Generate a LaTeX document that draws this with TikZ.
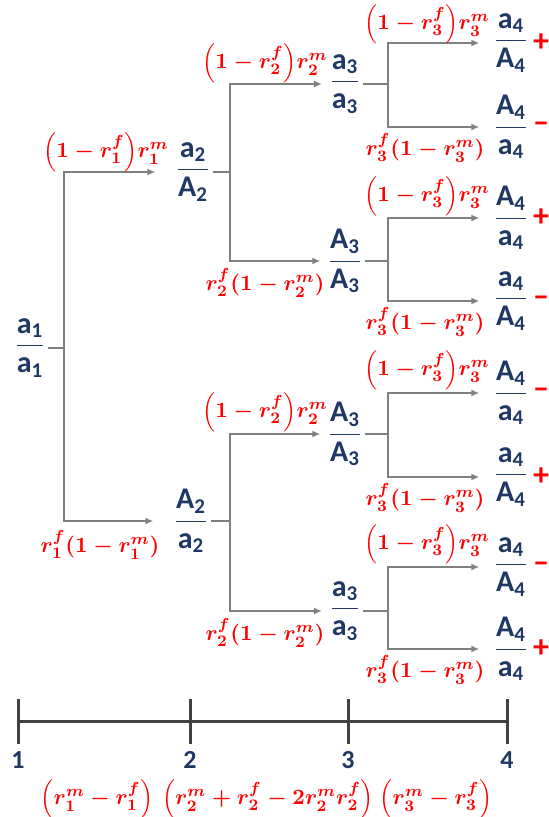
\documentclass[tikz,border=0pt]{standalone}
\usepackage{amsmath}
\usepackage{fontspec}
\newfontfamily\calfont{Carlito}
\usetikzlibrary{arrows.meta,positioning}
\definecolor{genblue}{RGB}{31,56,100}
\definecolor{probred}{RGB}{255,0,0}
\definecolor{treegray}{RGB}{128,128,128}
\definecolor{axisgray}{RGB}{64,64,64}
\newcommand{\allele}[2]{\text{\calfont\bfseries #1}_{\text{\calfont\bfseries #2}}}
\newcommand{\gfrac}[3]{$\dfrac{\allele{#1}{#3}}{\allele{#2}{#3}}$}
\newcommand{\stay}[1]{$\left(1-r_{#1}^{f}\right)\!r_{#1}^{m}$}
\newcommand{\swap}[1]{$r_{#1}^{f}(1-r_{#1}^{m})$}
\tikzset{
  genfrac/.style={inner sep=1pt,text=genblue,font=\fontsize{15}{17}\selectfont},
  prob/.style={inner sep=0pt,text=probred,font=\fontsize{11}{13}\selectfont\boldmath},
  signmark/.style={inner sep=0pt,text=probred,font=\calfont\bfseries\fontsize{16}{18}\selectfont},
  stem/.style={draw=treegray,line width=1pt},
  branch/.style={stem,-{Latex[length=4pt,width=3.5pt]}},
  axisline/.style={draw=axisgray,line width=1.5pt},
  stagelabel/.style={inner sep=0pt,text=genblue,font=\calfont\bfseries\fontsize{13}{15}\selectfont}
}
\begin{document}
\begin{tikzpicture}[x=0.5pt,y=-0.5pt]
  \useasboundingbox (0,0) rectangle (548,817);
  % generation 1
  \node[genfrac] (n1) at (30,348) {\gfrac{a}{a}{1}};
  % generation 2
  \node[genfrac] (n2a) at (193,172) {\gfrac{a}{A}{2}};
  \node[genfrac] (n2b) at (191,521) {\gfrac{A}{a}{2}};
  % generation 3
  \node[genfrac] (n3a) at (345,84) {\gfrac{a}{a}{3}};
  \node[genfrac] (n3b) at (345,261) {\gfrac{A}{A}{3}};
  \node[genfrac] (n3c) at (345,434) {\gfrac{A}{A}{3}};
  \node[genfrac] (n3d) at (345,611) {\gfrac{a}{a}{3}};
  % generation 4
  \node[genfrac] (n4a) at (511,43) {\gfrac{a}{A}{4}};
  \node[genfrac] (n4b) at (511,127) {\gfrac{A}{a}{4}};
  \node[genfrac] (n4c) at (511,218) {\gfrac{A}{a}{4}};
  \node[genfrac] (n4d) at (511,301) {\gfrac{a}{A}{4}};
  \node[genfrac] (n4e) at (511,393) {\gfrac{A}{a}{4}};
  \node[genfrac] (n4f) at (511,477) {\gfrac{a}{A}{4}};
  \node[genfrac] (n4g) at (511,567) {\gfrac{a}{A}{4}};
  \node[genfrac] (n4h) at (511,649) {\gfrac{A}{a}{4}};
  \node[signmark,right=1pt of n4a] (s4a) {+};
  \node[signmark,right=1pt of n4b] (s4b) {–};
  \node[signmark,right=1pt of n4c] (s4c) {+};
  \node[signmark,right=1pt of n4d] (s4d) {–};
  \node[signmark,right=1pt of n4e] (s4e) {–};
  \node[signmark,right=1pt of n4f] (s4f) {+};
  \node[signmark,right=1pt of n4g] (s4g) {–};
  \node[signmark,right=1pt of n4h] (s4h) {+};
  % junctions
  \coordinate (j1) at (64,348);
  \coordinate (j2a) at (230,172);
  \coordinate (j2b) at (230,521);
  \coordinate (j3a) at (388,84);
  \coordinate (j3b) at (388,261);
  \coordinate (j3c) at (388,434);
  \coordinate (j3d) at (388,611);
  % branches
  \draw[stem] (n1.east) -- (j1);
  \draw[branch,shorten >=9pt] (j1) |- (n2a.west);
  \draw[branch,shorten >=9pt] (j1) |- (n2b.west);
  \draw[stem] (n2a.east) -- (j2a);
  \draw[stem] (n2b.east) -- (j2b);
  \draw[branch,shorten >=2.5pt] (j2a) |- (n3a.west);
  \draw[branch,shorten >=2.5pt] (j2a) |- (n3b.west);
  \draw[branch,shorten >=2.5pt] (j2b) |- (n3c.west);
  \draw[branch,shorten >=2.5pt] (j2b) |- (n3d.west);
  \draw[stem] (n3a.east) -- (j3a);
  \draw[stem] (n3b.east) -- (j3b);
  \draw[stem] (n3c.east) -- (j3c);
  \draw[stem] (n3d.east) -- (j3d);
  \draw[branch,shorten >=6pt] (j3a) |- (n4a.west);
  \draw[branch,shorten >=6pt] (j3a) |- (n4b.west);
  \draw[branch,shorten >=6pt] (j3b) |- (n4c.west);
  \draw[branch,shorten >=6pt] (j3b) |- (n4d.west);
  \draw[branch,shorten >=6pt] (j3c) |- (n4e.west);
  \draw[branch,shorten >=6pt] (j3c) |- (n4f.west);
  \draw[branch,shorten >=6pt] (j3d) |- (n4g.west);
  \draw[branch,shorten >=6pt] (j3d) |- (n4h.west);
  % transition probabilities
  \node[prob] (p1a) at (106,152) {\stay{1}};
  \node[prob] (p1b) at (100,545) {\swap{1}};
  \node[prob] (p2a) at (265,63) {\stay{2}};
  \node[prob] (p2b) at (265,283) {\swap{2}};
  \node[prob] (p2c) at (265,412) {\stay{2}};
  \node[prob] (p2d) at (265,633) {\swap{2}};
  \node[prob] (p3a) at (427,24) {\stay{3}};
  \node[prob] (p3b) at (425,148) {\swap{3}};
  \node[prob] (p3c) at (427,196) {\stay{3}};
  \node[prob] (p3d) at (425,322) {\swap{3}};
  \node[prob] (p3e) at (427,370) {\stay{3}};
  \node[prob] (p3f) at (425,498) {\swap{3}};
  \node[prob] (p3g) at (427,544) {\stay{3}};
  \node[prob] (p3h) at (425,670) {\swap{3}};
  % generation axis
  \coordinate (t1) at (18,721);
  \coordinate (t2) at (190,721);
  \coordinate (t3) at (348,721);
  \coordinate (t4) at (507,721);
  \draw[axisline] (t1) -- (t4);
  \foreach \t in {t1,t2,t3,t4}
    \draw[axisline] ([yshift=11pt]\t) -- ([yshift=-11.5pt]\t);
  \node[stagelabel] (g1) at (18,760) {1};
  \node[stagelabel] (g2) at (190,760) {2};
  \node[stagelabel] (g3) at (348,760) {3};
  \node[stagelabel] (g4) at (507,760) {4};
  \node[prob] (d1) at (97,799) {$\left(r_{1}^{m}-r_{1}^{f}\right)$};
  \node[prob] (d2) at (268,799) {$\left(r_{2}^{m}+r_{2}^{f}-2r_{2}^{m}r_{2}^{f}\right)$};
  \node[prob] (d3) at (436,799) {$\left(r_{3}^{m}-r_{3}^{f}\right)$};
\end{tikzpicture}
\end{document}
